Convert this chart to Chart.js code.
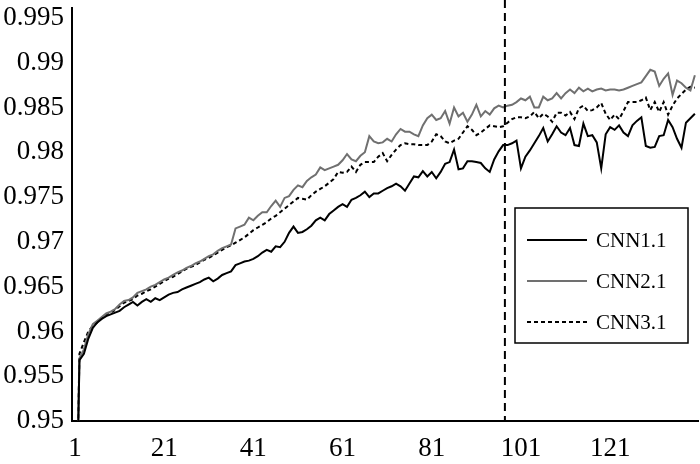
<!DOCTYPE html>
<html>
<head>
<meta charset="utf-8">
<script src="https://cdn.jsdelivr.net/npm/chart.js@4.4.0/dist/chart.umd.min.js"></script>
<style>
  body { margin: 0; background: #fff; }
</style>
</head>
<body>
<canvas id="myChart" width="700" height="464"></canvas>
<script>
// epochs 1..140
var epochs = [];
for (var i = 1; i <= 140; i++) epochs.push(i);

var cnn11 = [
  0.930, 0.9568, 0.9575, 0.9592, 0.9604, 0.9610, 0.9614, 0.9617, 0.9619, 0.9621,
  0.9623, 0.9627, 0.9630, 0.9633, 0.9629, 0.9633, 0.9636, 0.9633, 0.9637, 0.9635,
  0.9638, 0.9641, 0.9643, 0.9644, 0.9647, 0.9649, 0.9651, 0.9653, 0.9655, 0.9658,
  0.9660, 0.9656, 0.9659, 0.9663, 0.9665, 0.9667, 0.9674, 0.9676, 0.9678, 0.9679,
  0.9681, 0.9684, 0.9688, 0.9691, 0.9689, 0.9695, 0.9694, 0.9700, 0.9710, 0.9717,
  0.9710, 0.9711, 0.9714, 0.9718, 0.9724, 0.9727, 0.9724, 0.9731, 0.9735, 0.9739,
  0.9742, 0.9739, 0.9747, 0.9749, 0.9752, 0.9756, 0.9750, 0.9754, 0.9754, 0.9757,
  0.9760, 0.9762, 0.9765, 0.9762, 0.9757, 0.9765, 0.9773, 0.9772, 0.9779, 0.9773,
  0.9778, 0.9771, 0.9778, 0.9787, 0.9789, 0.9803, 0.9781, 0.9782, 0.9790, 0.9790,
  0.9789, 0.9788, 0.9782, 0.9778, 0.9792, 0.9801, 0.9808, 0.9808, 0.9810, 0.9813,
  0.9782, 0.9795, 0.9802, 0.9810, 0.9818, 0.9827, 0.9812, 0.9820, 0.9829, 0.9822,
  0.9819, 0.9827, 0.9808, 0.9807, 0.9832, 0.9818, 0.9819, 0.9811, 0.9782, 0.9820,
  0.9828, 0.9825, 0.9830, 0.9822, 0.9818, 0.9830, 0.9835, 0.9839, 0.9807, 0.9805,
  0.9806, 0.9818, 0.9819, 0.9836, 0.9828, 0.9815, 0.9805, 0.9833, 0.9838, 0.9843
];

var cnn21 = [
  0.930, 0.9570, 0.9580, 0.9597, 0.9608, 0.9612, 0.9616, 0.9620, 0.9622, 0.9625,
  0.9630, 0.9634, 0.9635, 0.9638, 0.9643, 0.9645, 0.9647, 0.9650, 0.9652, 0.9655,
  0.9658, 0.9660, 0.9663, 0.9666, 0.9668, 0.9671, 0.9673, 0.9676, 0.9678, 0.9681,
  0.9684, 0.9686, 0.9690, 0.9693, 0.9695, 0.9697, 0.9715, 0.9717, 0.9719, 0.9727,
  0.9724, 0.9729, 0.9733, 0.9733, 0.9740, 0.9746, 0.9739, 0.9749, 0.9751, 0.9758,
  0.9763, 0.9761, 0.9768, 0.9772, 0.9775, 0.9783, 0.9780, 0.9782, 0.9784, 0.9786,
  0.9791, 0.9798, 0.9792, 0.9790, 0.9796, 0.9800, 0.9818, 0.9812, 0.9810, 0.9811,
  0.9815, 0.9812, 0.9820, 0.9826, 0.9823, 0.9823, 0.9820, 0.9818, 0.9830, 0.9838,
  0.9842, 0.9836, 0.9838, 0.9846, 0.9832, 0.9850, 0.9840, 0.9844, 0.9834, 0.9842,
  0.9853, 0.9840, 0.9846, 0.9842, 0.9849, 0.9852, 0.9850, 0.9852, 0.9853, 0.9856,
  0.9860, 0.9858, 0.9862, 0.9850, 0.9850, 0.9862, 0.9858, 0.9860, 0.9866, 0.9860,
  0.9866, 0.9870, 0.9866, 0.9872, 0.9868, 0.9871, 0.9868, 0.9870, 0.9871, 0.9869,
  0.9870, 0.9870, 0.9869, 0.9870, 0.9872, 0.9874, 0.9876, 0.9878, 0.9885, 0.9892,
  0.9890, 0.9874, 0.9882, 0.9888, 0.9864, 0.9880, 0.9877, 0.9872, 0.9869, 0.9886
];

var cnn31 = [
  0.930, 0.9575, 0.9588, 0.9600, 0.9606, 0.9610, 0.9615, 0.9619, 0.9621, 0.9624,
  0.9628, 0.9632, 0.9634, 0.9636, 0.9640, 0.9642, 0.9645, 0.9647, 0.9650, 0.9653,
  0.9656, 0.9659, 0.9661, 0.9664, 0.9667, 0.9670, 0.9672, 0.9674, 0.9677, 0.9680,
  0.9682, 0.9685, 0.9688, 0.9691, 0.9694, 0.9696, 0.9699, 0.9702, 0.9705, 0.9709,
  0.9713, 0.9716, 0.9719, 0.9722, 0.9726, 0.9729, 0.9733, 0.9737, 0.9741, 0.9745,
  0.9749, 0.9748, 0.9747, 0.9752, 0.9756, 0.9759, 0.9762, 0.9766, 0.9770, 0.9778,
  0.9777, 0.9778, 0.9784, 0.9778, 0.9786, 0.9789, 0.9789, 0.9789, 0.9795, 0.9799,
  0.9790, 0.9797, 0.9803, 0.9808, 0.9810, 0.9809, 0.9809, 0.9808, 0.9808, 0.9808,
  0.9812, 0.9820, 0.9818, 0.9812, 0.9810, 0.9813, 0.9815, 0.9822, 0.9829, 0.9825,
  0.9819, 0.9822, 0.9826, 0.9830, 0.9829, 0.9828, 0.9829, 0.9833, 0.9837, 0.9839,
  0.9839, 0.9838, 0.9840, 0.9845, 0.9838, 0.9843, 0.9840, 0.9834, 0.9844, 0.9844,
  0.9841, 0.9845, 0.9837, 0.9849, 0.9852, 0.9846, 0.9847, 0.9850, 0.9855, 0.9843,
  0.9836, 0.9842, 0.9837, 0.9846, 0.9856, 0.9856, 0.9856, 0.9858, 0.9861, 0.9847,
  0.9856, 0.9845, 0.9856, 0.9842, 0.9852, 0.9860, 0.9865, 0.9870, 0.9873, 0.9872
];

var xTicks = [1, 21, 41, 61, 81, 101, 121];
var yTicks = [0.95, 0.955, 0.96, 0.965, 0.97, 0.975, 0.98, 0.985, 0.99, 0.995];
var markerEpoch = 97.4;

function pts(vals) {
  return vals.map(function (v, k) { return { x: epochs[k], y: v }; });
}

// dashed vertical marker line
var markerLine = {
  id: "markerLine",
  afterDatasetsDraw: function (chart) {
    var ctx = chart.ctx;
    var x = chart.scales.x.getPixelForValue(markerEpoch);
    ctx.save();
    ctx.strokeStyle = "#000";
    ctx.lineWidth = 2;
    ctx.setLineDash([8, 5]);
    ctx.beginPath();
    ctx.moveTo(x, 0);
    ctx.lineTo(x, chart.chartArea.bottom);
    ctx.stroke();
    ctx.restore();
  }
};

// boxed legend inside the plot
var boxLegend = {
  id: "boxLegend",
  afterDraw: function (chart) {
    var ctx = chart.ctx;
    ctx.save();
    ctx.fillStyle = "#fff";
    ctx.fillRect(515, 208, 173, 135);
    ctx.strokeStyle = "#000";
    ctx.lineWidth = 1.5;
    ctx.setLineDash([]);
    ctx.strokeRect(515, 208, 173, 135);
    var rows = [240, 281, 322];
    chart.data.datasets.forEach(function (ds, k) {
      ctx.strokeStyle = ds.borderColor;
      ctx.lineWidth = ds.borderWidth;
      ctx.setLineDash(ds.borderDash || []);
      ctx.beginPath();
      ctx.moveTo(527, rows[k]);
      ctx.lineTo(587, rows[k]);
      ctx.stroke();
      ctx.fillStyle = "#000";
      ctx.font = "21px 'Liberation Serif'";
      ctx.textBaseline = "middle";
      ctx.fillText(ds.label, 596, rows[k] + 1);
    });
    ctx.restore();
  }
};

new Chart("myChart", {
  type: "line",
  data: {
    datasets: [{
      label: "CNN1.1",
      data: pts(cnn11),
      borderColor: "#000000",
      borderWidth: 2
    }, {
      label: "CNN2.1",
      data: pts(cnn21),
      borderColor: "#707070",
      borderWidth: 2
    }, {
      label: "CNN3.1",
      data: pts(cnn31),
      borderColor: "#000000",
      borderWidth: 2,
      borderDash: [4, 3]
    }]
  },
  options: {
    responsive: false,
    animation: false,
    layout: { padding: { top: 8, right: 2, left: 0, bottom: 0 } },
    elements: { point: { radius: 0 }, line: { tension: 0 } },
    plugins: { legend: { display: false }, tooltip: { enabled: false } },
    scales: {
      x: {
        type: "linear",
        min: 0.33,
        max: 140.7,
        grid: { display: false },
        border: { display: true, color: "#000", width: 2 },
        afterBuildTicks: function (axis) {
          axis.ticks = xTicks.map(function (v) { return { value: v }; });
        },
        afterFit: function (axis) {
          axis.height = 43;
          axis.paddingLeft = 0;
          axis.paddingRight = 0;
        },
        ticks: {
          autoSkip: false,
          maxRotation: 0,
          padding: 4,
          color: "#000",
          font: { family: "'Liberation Serif'", size: 27 },
          callback: function (v) { return String(v); }
        }
      },
      y: {
        min: 0.95,
        max: 0.9961,
        grid: { display: false },
        border: { display: true, color: "#000", width: 2 },
        afterBuildTicks: function (axis) {
          axis.ticks = yTicks.map(function (v) { return { value: v }; });
        },
        afterFit: function (axis) {
          axis.width = 72;
          axis.paddingTop = 0;
          axis.paddingBottom = 0;
        },
        ticks: {
          padding: 0,
          color: "#000",
          font: { family: "'Liberation Serif'", size: 27 },
          callback: function (v) { return String(v); }
        }
      }
    }
  },
  plugins: [markerLine, boxLegend]
});
</script>
</body>
</html>
